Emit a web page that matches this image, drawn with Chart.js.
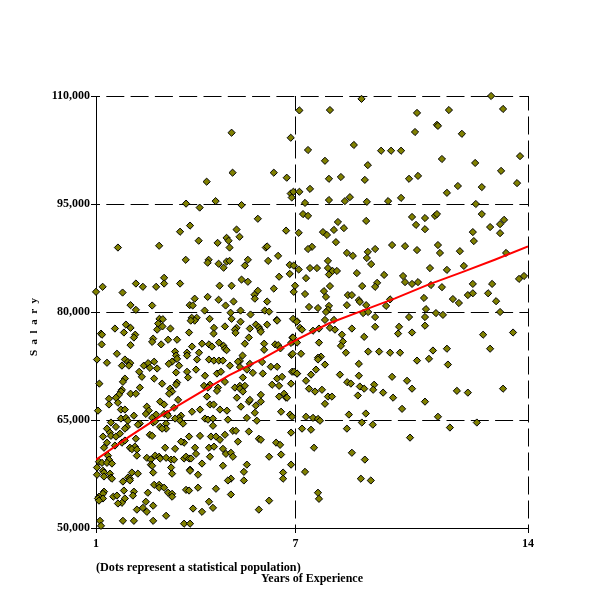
<!DOCTYPE html>
<html>
<head>
<meta charset="utf-8">
<title>Salary vs Years of Experience</title>
<script src="https://cdn.jsdelivr.net/npm/chart.js@4/dist/chart.umd.min.js"></script>
<style>
html, body { margin: 0; padding: 0; background: #fff; }
canvas { display: block; }
</style>
</head>
<body>
<canvas id="salaryChart" width="600" height="600"></canvas>
<script>
const xTicks = [1, 7, 14];
const yTicks = [50000, 65000, 80000, 95000, 110000];
const xTitle = "Years of Experience";
const yTitle = "S  a  l  a  r  y";
const note = "(Dots represent a statistical population)";

// red fitted line
const fitYears = [1, 2, 3, 4, 5, 6, 7, 8, 9, 10, 11, 12, 13, 14];
const fitSalary = [59500, 62700, 65700, 68450, 71200, 73500, 76050, 78400, 80150, 81900, 83800, 85500, 87250, 89100];

// dots, [years, salary], one quadrant at a time
const dotsUpperLeft = [
    [5.08,104900],[6.86,104200],[7.12,108000],[5.11,99350],[6.35,99350],[6.74,98650],[4.33,98100],[4.60,95400],
    [3.71,95050],[4.12,94500],[5.38,94850],[6.86,96450],[6.94,96700],[6.89,95900],[7.12,96700],[5.87,92950],
    [3.83,92000],[3.53,91150],[5.23,91450],[5.32,90450],[6.72,91300],[7.10,91000],[4.93,90300],[4.99,89900],
    [4.09,89900],[4.66,89600],[2.90,89200],[1.66,88950],[5.02,88950],[6.11,88950],[6.15,89100],[6.48,87800],
    [3.70,87250],[4.39,87250],[4.36,86850],[4.69,86700],[4.93,87000],[5.02,87100],[4.84,86150],[5.48,86450],
    [5.57,87250],[6.18,87100],[6.83,86550],[6.95,86450],[7.10,85900],[6.83,85300],[6.51,84900],[3.05,84750],
    [5.38,84500],[5.57,84200],[1.20,83500],[2.20,83950],[2.41,83500],[2.81,83500],[3.05,83950],[3.53,83950],
    [4.72,83650],[5.08,83650],[6.99,83650],[1.00,82800],[1.80,82700],[6.95,82800],[6.35,83250],[5.87,82950],
    [5.77,82400],[5.78,81850],[4.36,82100],[3.97,81850],[4.69,81700],[5.14,81450],[6.15,81450],[2.04,80950],
    [2.69,80900],[3.82,80950],[3.91,80900],[4.90,80900],[2.20,80300],[4.27,80200],[5.05,79900],[5.35,80200],
    [5.65,79650],[6.08,80200],[6.21,80050],[3.88,79200],[4.03,79200],[4.42,79050],[5.08,79050],[2.91,79050],
    [3.01,79000],[6.44,78900],[6.93,79050]
];
const dotsUpperRight = [
    [12.89,110000],[8.99,109600],[8.04,108050],[10.66,107650],[11.62,108050],[13.25,108200],[11.26,106000],
    [11.29,105850],[10.6,105000],[12.01,104750],[8.76,103200],[7.38,102500],[9.58,102400],[9.88,102400],
    [10.18,102400],[13.76,101650],[7.89,101000],[11.41,101250],[12.41,100700],[9.18,100400],[13.19,99600],
    [8.37,98750],[8.01,98500],[9.09,98350],[10.42,98500],[10.69,98900],[13.67,97900],[11.89,97500],[12.61,97350],
    [7.44,97100],[11.56,96550],[8.64,95950],[8.01,95550],[8.49,95400],[10.18,95850],[9.79,95400],[9.15,95300],
    [7.29,95150],[12.43,95000],[7.23,93600],[7.38,93350],[12.61,93600],[10.51,93200],[10.9,93050],[11.2,93350],
    [11.26,93600],[13.28,92800],[13.16,92200],[9.13,92650],[8.28,92500],[10.63,92100],[10.9,91500],[12.86,91800],
    [8.16,91400],[8.46,91650],[7.83,91100],[7.95,90700],[12.34,91100],[13.16,90950],[12.37,89850],[8.22,89700],
    [9.91,89300],[10.3,89150],[11.29,89300],[7.5,89050],[7.38,88750],[10.66,88600],[11.95,88450],[9.4,88750],
    [9.18,88350],[8.55,88200],[8.73,87800],[11.35,88200],[13.34,88200],[9.15,87500],[7.98,87100],[9.28,86650],
    [12.07,86400],[7.44,86100],[7.65,86100],[7.98,86100],[11.05,86100],[11.56,85850],[8.12,85700],[8.25,85700],
    [8.01,85200],[8.85,85400],[9.67,85150],[10.24,85000],[7.32,84700],[13.73,84600],[13.88,85000],[10.3,84150],
    [10.69,84150],[10.51,83900],[9.46,84050],[9.4,83500],[9.01,83600],[8.04,83600],[11.08,83750],[11.41,83450],
    [12.34,83900],[12.92,83900],[7.29,82500],[7.86,82900],[7.92,82100],[8.58,82350],[8.7,82350],[12.19,82350],
    [12.34,82600],[12.8,82600],[10.87,81950],[11.74,81800],[11.92,81250],[13.04,81500],[8.91,81650],[8.94,81400],
    [9.85,81750],[7.41,80700],[7.68,80550],[8.01,80850],[7.98,80300],[7.92,80000],[8.55,80950],[9.13,80950],
    [9.73,80850],[10.93,80400],[9.04,79850],[9.19,80000],[11.23,79850],[11.44,79600],[13.16,80000],[9.4,79300],
    [10.42,79300],[10.9,79300],[7.89,78900],[8.16,78900]
];
const dotsLowerLeft = [
    [2.87,78400],[2.84,77550],[3.0,78000],[1.57,77700],[1.9,78250],[2.04,77800],[1.15,77000],[1.18,76850],
    [1.84,77150],[2.18,76850],[2.14,76450],[1.17,75500],[2.04,75400],[2.72,76300],[2.69,75850],[2.96,75500],
    [3.17,76150],[3.44,76150],[3.8,77150],[3.24,77700],[4.55,77800],[4.54,77000],[4.88,78000],[5.23,77800],
    [5.18,77550],[5.2,77100],[5.35,78650],[5.63,77700],[5.81,78250],[5.9,77900],[5.94,77550],[5.96,77250],
    [6.15,78250],[6.45,78800],[3.97,78800],[3.85,78800],[3.89,75200],[4.19,75600],[4.4,75500],[4.49,75200],
    [4.7,75750],[4.84,75300],[4.88,74900],[4.93,74700],[5.48,75600],[5.6,76450],[6.06,75600],[6.06,74750],
    [6.39,75500],[6.48,75400],[6.55,74950],[6.91,76450],[6.93,75900],[6.87,75700],[7.05,78700],[1.63,74200],
    [1.03,73400],[1.33,72950],[1.87,73400],[1.96,73050],[2.03,72900],[1.78,72550],[1.99,72550],[3.38,74500],
    [3.41,73950],[3.74,74350],[3.74,73950],[4.1,74350],[3.44,73500],[4.04,73400],[4.4,73400],[4.55,73250],
    [4.7,73250],[4.82,73250],[3.29,73100],[3.19,72800],[3.5,72550],[2.44,72550],[2.57,72900],[2.75,73100],
    [2.62,72250],[2.84,72150],[2.3,71700],[3.41,71600],[3.74,71700],[4.01,72000],[5.03,72550],[5.33,73200],
    [5.41,73950],[5.27,73100],[5.33,72350],[5.63,72800],[5.54,72000],[5.72,71550],[6.0,73050],[6.02,71450],
    [6.26,72400],[6.45,72400],[6.88,74050],[6.92,74200],[6.9,71700],[6.96,71700],[7.05,71450],[2.38,71000],
    [3.77,70900],[2.75,70750],[4.28,71150],[4.64,71450],[4.76,71700],[4.88,70300],[5.42,70900],[6.45,70750],
    [6.6,71000],[6.87,70050],[1.1,70050],[1.87,70750],[1.81,70300],[2.99,70050],[3.44,70200],[3.41,69900],
    [4.43,69900],[4.25,69750],[4.37,69500],[5.18,69500],[5.33,69750],[5.48,69750],[5.33,69350],[5.42,68950],
    [6.3,69900],[6.51,69750],[2.32,69500],[1.78,69200],[1.75,68950],[1.69,68500],[3.23,69350],[3.29,68950],
    [3.2,68650],[4.67,69500],[4.64,69050],[2.04,68650],[2.2,68650],[1.39,67950],[1.6,68100],[1.66,67400],
    [1.39,67150],[2.93,67550],[3.05,67150],[3.47,67800],[4.34,68250],[5.24,68100],[5.6,67550],[5.96,68500],
    [5.96,67550],[5.63,67800],[6.51,68250],[6.66,68650],[6.72,68100],[6.75,68100],[1.06,66300],[1.75,66450],
    [1.87,66450],[2.53,66850],[2.59,66300],[3.35,66700],[3.89,66150],[4.13,66450],[4.43,67150],[4.54,67150],
    [4.73,66450],[4.94,66300],[5.36,66850],[5.81,67000],[5.78,66000],[6.57,66150],[6.84,65750],[6.9,65450],
    [2.14,65600],[2.5,65850],[2.69,65300],[2.81,65750],[3.05,65850],[3.14,65850],[3.17,65600],[3.56,65600],
    [3.5,65300],[1.75,65200],[1.9,65300],[1.96,64900],[3.38,65200],[3.53,64900],[4.28,65200],[4.37,65050],
    [4.52,65200],[4.97,65050],[5.54,65300],[5.84,64900],[1.45,64650],[2.32,64500],[2.26,64350],[2.72,64650],
    [2.78,64800],[3.62,64500],[4.52,64200],[1.33,63800],[1.6,64050],[1.93,64050],[1.87,63800],[2.93,64050],
    [3.11,64500],[3.11,63800],[2.99,63800],[5.6,63400],[6.87,63250],[1.21,62700],[1.42,63250],[1.45,62800],
    [1.6,62700],[1.72,63100],[2.2,62400],[2.62,62950],[2.69,62800],[3.8,62700],[4.13,62800],[4.46,62700],
    [4.61,62700],[4.73,62250],[4.88,62950],[5.12,63500],[5.21,63500],[5.27,62000],[5.9,62400],[5.96,62250],
    [6.42,61850],[6.54,61550],[1.33,61850],[1.78,61850],[1.87,62150],[3.65,61850],[3.56,62000],[1.24,61150],
    [1.57,61450],[2.02,61150],[2.17,61300],[2.08,60950],[2.23,60900],[3.08,61150],[3.38,61000],[3.98,61150],
    [4.4,61150],[4.55,61300],[4.82,61000],[6.57,60200],[4.01,60300],[2.23,60050],[4.91,60300],[5.06,60450],
    [5.12,59900],[6.21,59900],[1.36,60050],[1.39,59500],[1.09,59200],[1.18,59050],[1.33,59050],[1.48,58950],
    [1.03,58400],[2.53,59750],[2.65,59500],[2.78,60050],[2.9,59900],[2.93,59650],[3.11,59750],[3.26,59500],
    [3.35,59500],[3.65,59650],[3.71,59900],[3.8,59650],[3.86,59650],[4.43,59900],[4.19,58950],[5.54,58800],
    [6.87,58800],[2.65,58800],[2.69,58650],[3.26,58400],[3.83,58100],[3.83,57950],[4.82,58650],[1.21,57950],
    [1.24,57700],[1.03,57400],[1.24,57150],[1.42,57550],[1.45,57000],[1.48,56850],[2.72,57700],[2.08,57700],
    [2.26,57550],[3.29,57550],[4.07,57400],[5.45,57800],[6.63,57700],[6.63,56850],[5.45,56600],[5.06,56850],
    [4.97,56600],[1.81,56450],[1.96,57000],[2.02,56850],[2.02,56600],[2.75,56000],[2.9,56000],[2.9,55600],
    [3.05,55600],[4.61,55450],[3.71,55300],[3.8,55200],[4.07,55600],[1.84,55200],[1.24,55050],[1.21,54750],
    [1.09,54350],[1.06,54100],[1.21,54100],[1.09,53800],[1.52,54350],[1.63,54500],[2.14,55050],[2.11,54500],
    [2.56,54900],[3.17,54900],[3.29,54750],[3.29,54350],[5.06,54650],[6.21,53800],[1.87,54100],[1.78,53500],
    [1.66,53400],[2.5,53650],[2.72,53100],[4.4,53650],[2.23,52550],[2.41,52800],[2.53,52250],[3.92,52700],
    [4.19,52250],[4.52,52800],[5.9,52550],[3.11,51700],[1.12,51000],[1.15,50300],[1.81,51000],[2.14,51000],
    [2.72,51000],[3.65,50600],[3.83,50600]
];
const dotsLowerRight = [
    [7.04,78650],[7.14,77800],[7.2,77550],[7.53,77400],[7.71,77700],[8.04,77800],[8.19,77550],[8.7,77700],
    [9.4,77950],[10.12,77950],[10.9,78100],[12.65,76850],[13.55,77150],[10.09,77000],[10.51,77150],[8.4,76850],
    [9.07,76550],[6.93,76450],[7.05,75750],[7.71,75750],[8.43,75900],[8.37,75300],[12.86,74900],[11.56,74900],
    [11.14,74650],[9.19,74500],[9.52,74500],[9.85,74350],[10.15,74350],[8.52,74350],[7.17,74200],[7.77,73800],
    [7.68,73650],[7.68,73400],[11.02,73500],[10.66,73250],[11.59,72700],[8.91,72800],[7.89,72700],[7.62,72000],
    [7.05,71450],[7.47,71300],[8.34,71300],[8.91,71150],[9.91,71000],[7.32,70450],[10.36,70450],[8.56,70250],
    [8.67,70050],[9.37,69900],[8.94,69650],[9.07,69350],[7.41,69350],[7.8,69200],[9.34,69200],[10.51,69350],
    [13.25,69350],[11.86,69050],[12.19,68800],[7.59,68950],[9.64,68800],[7.98,68250],[8.1,68250],[8.88,68400],
    [9.94,68100],[10.9,67550],[7.89,67250],[10.21,66550],[9.12,65900],[8.61,65750],[11.29,65450],[7.32,65450],
    [7.53,65300],[7.68,65150],[7.74,64900],[9.0,64650],[9.33,64350],[12.46,64650],[7.2,63800],[7.47,63650],
    [8.55,63800],[11.65,63950],[10.45,62550],[7.56,61150],[8.7,60450],[9.09,59500],[7.29,57800],[8.97,56850],
    [9.27,56600],[7.68,54900],[7.71,54050]
];

const boldFont = { family: "'Liberation Serif', 'Times New Roman', serif", weight: "bold" };

function toPoints(xs, ys) {
    return xs.map((x, i) => ({ x: x, y: ys[i] }));
}

function toDots(list) {
    return list.map(d => ({ x: d[0], y: d[1] }));
}

// the note starts at the plot's left edge and "S a l a r y" sits below the plot's middle,
// neither of which the axis titles can do
const labelsPlugin = {
    id: "labels",
    afterDraw(chart) {
        const ctx = chart.ctx;
        ctx.save();
        ctx.fillStyle = "#000";
        ctx.textBaseline = "alphabetic";
        ctx.font = "bold 12.2px 'Liberation Serif', serif";
        ctx.fillText(note, chart.chartArea.left, 571);
        ctx.translate(37, 327);
        ctx.rotate(-Math.PI / 2);
        ctx.textAlign = "center";
        ctx.font = "bold 11px 'Liberation Serif', serif";
        ctx.fillText(yTitle, 0, 0);
        ctx.restore();
    }
};

new Chart(document.getElementById("salaryChart").getContext("2d"), {
    type: "scatter",
    data: {
        datasets: [
            {
                type: "line",
                data: toPoints(fitYears, fitSalary),
                borderColor: "#ff0000",
                borderWidth: 2,
                pointRadius: 0,
                tension: 0,
                fill: false,
                order: 0
            },
            {
                data: toDots([...dotsUpperLeft, ...dotsUpperRight, ...dotsLowerLeft, ...dotsLowerRight]),
                pointStyle: "rectRot",
                pointRadius: 3.6,
                pointBorderWidth: 1,
                pointBackgroundColor: "#808000",
                pointBorderColor: "#000000",
                clip: false,
                order: 1
            }
        ]
    },
    options: {
        responsive: false,
        animation: false,
        layout: { padding: { top: 96, right: 72, left: 0, bottom: 0 } },
        plugins: {
            legend: { display: false },
            tooltip: { enabled: false },
            title: { display: false }
        },
        scales: {
            x: {
                type: "linear",
                min: 1,
                max: 14,
                afterBuildTicks(axis) { axis.ticks = xTicks.map(v => ({ value: v })); },
                afterFit(axis) { axis.height = 72; },
                ticks: {
                    color: "#000",
                    font: { ...boldFont, size: 12 },
                    maxRotation: 0,
                    padding: 4,
                    callback: v => String(v)
                },
                grid: { color: "#000", lineWidth: 1, tickLength: 5, tickBorderDash: [], tickColor: "#000" },
                border: { color: "#000", width: 1, dash: [18, 6], dashOffset: 3.5 },
                title: {
                    display: true,
                    text: xTitle,
                    color: "#000",
                    font: { ...boldFont, size: 12 },
                    padding: { top: 0, bottom: 14 }
                }
            },
            y: {
                type: "linear",
                min: 50000,
                max: 110000,
                afterBuildTicks(axis) { axis.ticks = yTicks.map(v => ({ value: v })); },
                afterFit(axis) { axis.width = 96; },
                ticks: {
                    color: "#000",
                    font: { ...boldFont, size: 12 },
                    padding: 1,
                    callback: v => v.toLocaleString("en-US")
                },
                grid: { color: "#000", lineWidth: 1, tickLength: 5, tickBorderDash: [], tickColor: "#000" },
                border: { color: "#000", width: 1, dash: [18, 6.3], dashOffset: 15 }
            }
        }
    },
    plugins: [labelsPlugin]
});
</script>
</body>
</html>
